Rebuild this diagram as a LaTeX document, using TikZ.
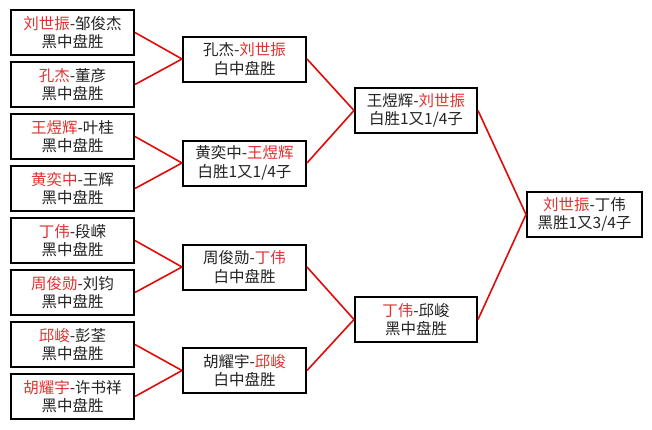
\documentclass[tikz,border=0pt]{standalone}
\usepackage{fontspec}
\setmainfont{Noto Sans CJK SC}
\definecolor{namered}{RGB}{225,50,50}
\definecolor{linkred}{RGB}{225,10,10}
\definecolor{ink}{RGB}{35,35,35}
\newcommand{\rn}[1]{\textcolor{namered}{#1}}
\tikzset{
  box/.style={draw=black, line width=2pt, fill=white, minimum width=123pt,
    minimum height=45pt, inner sep=0pt, align=center, text=ink,
    font=\fontsize{15.5}{18.5}\selectfont},
  link/.style={draw=linkred, line width=1.6pt},
}
\begin{document}
\begin{tikzpicture}[x=1pt,y=-1pt]
\useasboundingbox[fill=white] (0,0) rectangle (652,429);
% first round
\node[box] (l1) at (72.5,32.5)  {\rn{刘世振}-邹俊杰\\黑中盘胜};
\node[box] (l2) at (72.5,84.5)  {\rn{孔杰}-董彦\\黑中盘胜};
\node[box] (l3) at (72.5,136.5) {\rn{王煜辉}-叶桂\\黑中盘胜};
\node[box] (l4) at (72.5,188.5) {\rn{黄奕中}-王辉\\黑中盘胜};
\node[box] (l5) at (72.5,240.5) {\rn{丁伟}-段嵘\\黑中盘胜};
\node[box] (l6) at (72.5,292.5) {\rn{周俊勋}-刘钧\\黑中盘胜};
\node[box] (l7) at (72.5,344.5) {\rn{邱峻}-彭荃\\黑中盘胜};
\node[box] (l8) at (72.5,396.5) {\rn{胡耀宇}-许书祥\\黑中盘胜};
% second round
\node[box] (m1) at (244.5,59)    {孔杰-\rn{刘世振}\\白中盘胜};
\node[box] (m2) at (244.5,163)   {黄奕中-\rn{王煜辉}\\白胜1又1/4子};
\node[box] (m3) at (244.5,267)   {周俊勋-\rn{丁伟}\\白中盘胜};
\node[box] (m4) at (244.5,370.5) {胡耀宇-\rn{邱峻}\\白中盘胜};
% semifinal
\node[box, minimum width=122pt] (s1) at (416,110.5) {王煜辉-\rn{刘世振}\\白胜1又1/4子};
\node[box, minimum width=122pt] (s2) at (416,319.5) {\rn{丁伟}-邱峻\\黑中盘胜};
% final
\node[box, minimum width=115pt] (f) at (584.5,214.5) {\rn{刘世振}-丁伟\\黑胜1又3/4子};
% connectors
\draw[link] (l1.east) -- (m1.west);
\draw[link] (l2.east) -- (m1.west);
\draw[link] (l3.east) -- (m2.west);
\draw[link] (l4.east) -- (m2.west);
\draw[link] (l5.east) -- (m3.west);
\draw[link] (l6.east) -- (m3.west);
\draw[link] (l7.east) -- (m4.west);
\draw[link] (l8.east) -- (m4.west);
\draw[link] (m1.east) -- (s1.west);
\draw[link] (m2.east) -- (s1.west);
\draw[link] (m3.east) -- (s2.west);
\draw[link] (m4.east) -- (s2.west);
\draw[link] (s1.east) -- (f.west);
\draw[link] (s2.east) -- (f.west);
\end{tikzpicture}
\end{document}
